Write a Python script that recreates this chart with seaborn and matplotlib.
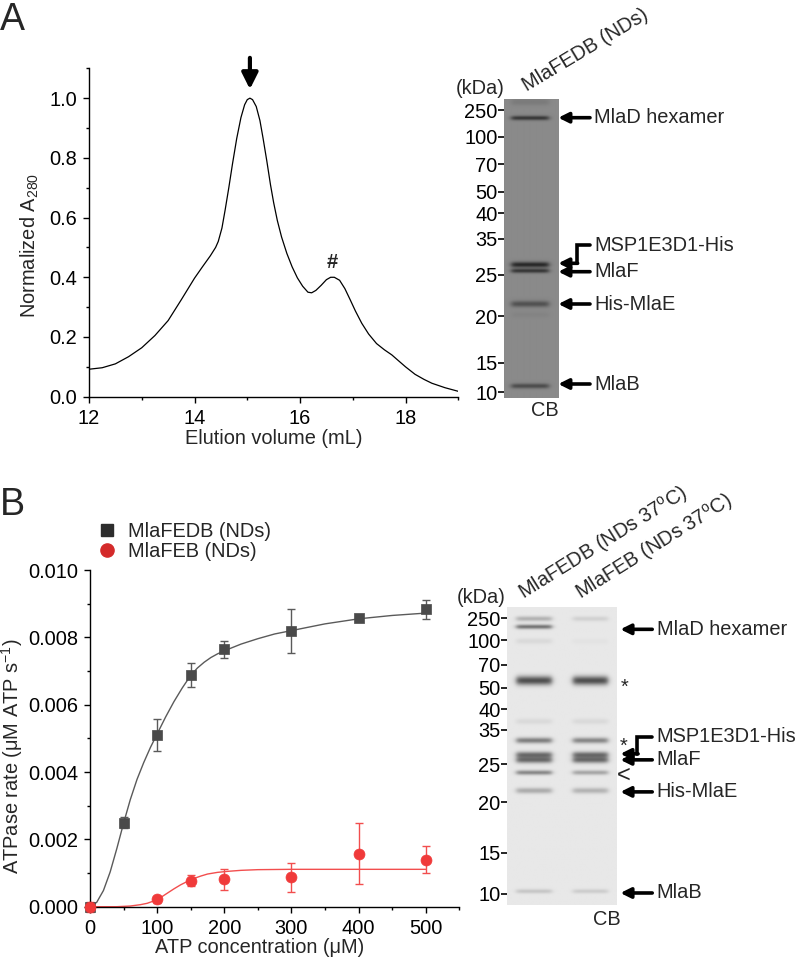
import matplotlib
matplotlib.use("Agg")
import matplotlib.pyplot as plt
import numpy as np
import pandas as pd
import seaborn as sns
from matplotlib.lines import Line2D
from matplotlib.ticker import MultipleLocator, FormatStrFormatter

# --- Data: panel A chromatogram ---
elution_ml = [12.0, 12.25, 12.5, 12.75, 13.0, 13.25, 13.5, 13.75, 14.0, 14.15, 14.3,
              14.4, 14.45, 14.52, 14.58, 14.65, 14.72, 14.8, 14.88, 14.95, 15.0, 15.05,
              15.1, 15.17, 15.24, 15.3, 15.37, 15.44, 15.5, 15.57, 15.65, 15.75, 15.85,
              15.95, 16.05, 16.15, 16.22, 16.3, 16.4, 16.5, 16.58, 16.65, 16.75, 16.85,
              16.95, 17.05, 17.17, 17.3, 17.45, 17.6, 17.74, 17.85, 18.0, 18.18, 18.35,
              18.5, 18.75, 19.0]
a280 = [0.092, 0.097, 0.11, 0.134, 0.164, 0.205, 0.255, 0.325, 0.397, 0.435, 0.472,
        0.50, 0.52, 0.565, 0.625, 0.70, 0.78, 0.865, 0.935, 0.978, 0.995, 1.0,
        0.995, 0.972, 0.925, 0.865, 0.79, 0.71, 0.65, 0.59, 0.535, 0.48, 0.435,
        0.398, 0.37, 0.35, 0.348, 0.356, 0.373, 0.392, 0.40, 0.40, 0.39, 0.362,
        0.325, 0.287, 0.246, 0.21, 0.178, 0.157, 0.14, 0.123, 0.10, 0.075, 0.058,
        0.045, 0.03, 0.018]

# --- Data: panel B ATPase assay ---
atp_fedb = [0, 50, 100, 150, 200, 300, 400, 500]
rate_fedb = [0.0, 0.0025, 0.0051, 0.00688, 0.00764, 0.00819, 0.00856, 0.00883]
err_fedb = [0.00005, 0.00016, 0.00047, 0.00036, 0.00025, 0.00065, 0.00005, 0.00029]
atp_feb = [0, 100, 150, 200, 300, 400, 500]
rate_feb = [0.0, 0.00022, 0.00077, 0.00081, 0.00087, 0.00158, 0.00139]
err_feb = [0.00015, 0.0001, 0.00017, 0.0003, 0.00044, 0.0009, 0.0004]

fit_x_fedb = [0, 10, 20, 30, 40, 50, 60, 70, 80, 90, 100, 112.5, 125, 137.5, 150, 160,
              170, 180, 190, 200, 225, 250, 275, 300, 350, 400, 450, 500]
fit_y_fedb = [0.0, 0.00013, 0.00048, 0.00103, 0.00173, 0.00248, 0.00318, 0.00378,
              0.00428, 0.00473, 0.00513, 0.00563, 0.00609, 0.0065, 0.00687, 0.00709,
              0.00726, 0.0074, 0.00751, 0.0076, 0.0078, 0.00796, 0.0081, 0.0082,
              0.0084, 0.00855, 0.00865, 0.00872]
fit_x_feb = [0, 40, 60, 75, 85, 95, 105, 115, 125, 135, 145, 155, 165, 175, 190, 205,
             225, 250, 300, 400, 500]
fit_y_feb = [0.0, 0.0, 0.00002, 0.00006, 0.0001, 0.00017, 0.00027, 0.0004, 0.00053,
             0.00065, 0.00075, 0.00084, 0.00091, 0.00097, 0.00102, 0.00105, 0.00108,
             0.0011, 0.00111, 0.00111, 0.00111]

# --- Data: gels (positions in px from gel top) ---
marker_kda = [250, 100, 70, 50, 40, 35, 25, 20, 15, 10]
gelA_marker_pos = [10.7, 37.4, 64.7, 92.4, 114.0, 139.7, 175.7, 216.7, 263.4, 293.0]
gelA_band_pos = [3, 19, 165.7, 171.8, 205, 216, 287]
gelA_band_int = [0.15, 0.8, 0.95, 0.8, 0.55, 0.06, 0.6]
gelA_band_w = [2.5, 1.6, 2.0, 1.6, 2.2, 2.0, 1.8]

gelB_marker_pos = [11.6, 33.6, 57.8, 81.0, 102.6, 123.0, 157.6, 195.6, 245.6, 286.6]
gelB_band_pos = [12.7, 20.7, 35, 74.3, 115, 134, 148.3, 153.5, 166, 184, 284.3]
gelB_lane1_int = [0.35, 0.75, 0.1, 1.0, 0.1, 0.7, 0.8, 0.8, 0.65, 0.4, 0.22]
gelB_lane2_int = [0.15, 0.0, 0.04, 1.0, 0.1, 0.65, 0.8, 0.8, 0.45, 0.35, 0.18]
gelB_band_w = [1.8, 1.6, 2.0, 3.2, 2.0, 2.0, 2.2, 2.2, 1.6, 2.0, 1.6]

FS = 14.4
W_PX, H_PX = 797, 961

sns.set_theme(style="ticks")
plt.rcParams["font.family"] = ["Liberation Sans", "DejaVu Sans"]
plt.rcParams["mathtext.default"] = "regular"
plt.rcParams["axes.linewidth"] = 1.0


def fig_rect(left, top, right, bottom):
    return [left / W_PX, 1 - bottom / H_PX, (right - left) / W_PX, (bottom - top) / H_PX]


def style_axis(ax):
    sns.despine(ax=ax)
    for sp in ("left", "bottom"):
        ax.spines[sp].set_color("black")
        ax.spines[sp].set_linewidth(1.0)
    ax.tick_params(which="major", direction="out", length=4, width=1.0, pad=4.5,
                   labelsize=FS, colors="black")
    ax.tick_params(which="minor", direction="out", length=2.2, width=1.0, colors="black")
    ax.grid(False)
    ax.set_facecolor("white")


def render_gel(height, width, lanes, band_pos, lane_ints, band_w, bg, depth):
    ys = np.arange(height) + 0.5
    xs = np.arange(width) + 0.5
    img = np.full((height, width), bg, dtype=float)
    for (l0, l1), ints in zip(lanes, lane_ints):
        prof = 1 / (1 + np.exp(-(xs - l0) / 1.5)) / (1 + np.exp((xs - l1) / 1.5))
        for p, a, w in zip(band_pos, ints, band_w):
            img -= depth * a * np.exp(-0.5 * ((ys - p) / w) ** 2)[:, None] * prof[None, :]
    return np.clip(img, 0, 1)


def draw_gel(ax, img, marker_pos):
    h, w = img.shape
    ax.imshow(img, cmap="gray", vmin=0, vmax=1, extent=(0, w, h, 0), aspect="auto",
              interpolation="bilinear")
    ax.set_xlim(0, w)
    ax.set_ylim(h, 0)
    ax.set_xticks([])
    ax.set_yticks(marker_pos, labels=[str(k) for k in marker_kda])
    ax.tick_params(axis="y", direction="out", length=4, width=1.2, pad=0.8,
                   labelsize=FS, colors="black")
    for sp in ax.spines.values():
        sp.set_visible(False)


def arrow_label(ax, y, text, head_x, tail_x, text_x, text_y=None):
    ax.annotate("", xy=(head_x, y), xytext=(tail_x, y),
                arrowprops=dict(arrowstyle="-|>", color="black", lw=2.6,
                                mutation_scale=15, shrinkA=0, shrinkB=0),
                annotation_clip=False)
    if text:
        ax.text(text_x, y if text_y is None else text_y, text, ha="left", va="center",
                fontsize=FS, clip_on=False)


fig = plt.figure(figsize=(W_PX / 100, H_PX / 100), dpi=100)

# ---------------- Panel A: chromatogram ----------------
axA = fig.add_axes(fig_rect(89, 68.3, 458.3, 396.7))
sns.lineplot(x=elution_ml, y=a280, ax=axA, color="black", lw=0.9, sort=False)
axA.set_xlim(12, 19)
axA.set_ylim(0, 1.1)
axA.xaxis.set_major_locator(MultipleLocator(2))
axA.xaxis.set_minor_locator(MultipleLocator(1))
axA.yaxis.set_major_locator(MultipleLocator(0.2))
axA.yaxis.set_minor_locator(MultipleLocator(0.1))
axA.yaxis.set_major_formatter(FormatStrFormatter("%.1f"))
style_axis(axA)
axA.set_xlabel("Elution volume (mL)", fontsize=FS)
axA.set_ylabel("Normalized A$_{280}$", fontsize=FS)
axA.xaxis.set_label_coords(0.5, -0.098)
axA.yaxis.set_label_coords(-0.13, 0.462)
axA.annotate("", xy=(15.05, 1.03), xytext=(15.05, 1.135),
             arrowprops=dict(arrowstyle="-|>", color="black", lw=3.0,
                             mutation_scale=24, shrinkA=0, shrinkB=0),
             annotation_clip=False)
axA.text(16.62, 0.43, "#", ha="center", va="baseline", fontsize=FS, fontweight="bold")
fig.text(0.0, 1 - 30 / H_PX, "A", fontsize=27, ha="left", va="baseline")

# ---------------- Panel A: gel ----------------
gA_left, gA_top, gA_right, gA_bottom = 504.3, 99.3, 558.3, 398.3
axGA = fig.add_axes(fig_rect(gA_left, gA_top, gA_right, gA_bottom))
imgA = render_gel(299, 54, [(7.4, 44.0)], gelA_band_pos, [gelA_band_int], gelA_band_w,
                  bg=0.54, depth=0.4)
draw_gel(axGA, imgA, gelA_marker_pos)
wA = 54
hx, tx, lx = wA, 590 - gA_left, 594 - gA_left
arrow_label(axGA, 18.4, "MlaD hexamer", hx, tx, lx)
elbow_x = 576.7 - gA_left
axGA.plot([tx, elbow_x, elbow_x], [146.2, 146.2, 164.0], color="black", lw=2.6,
          solid_joinstyle="miter", clip_on=False)
arrow_label(axGA, 164.0, "", hx, elbow_x + 0.9, lx)
axGA.text(lx, 146.2, "MSP1E3D1-His", ha="left", va="center", fontsize=FS, clip_on=False)
arrow_label(axGA, 172.4, "MlaF", hx, tx, lx)
arrow_label(axGA, 204.7, "His-MlaE", hx, tx, lx)
arrow_label(axGA, 284.7, "MlaB", hx, tx, lx)
axGA.text(480 - gA_left, 88 - gA_top, "(kDa)", ha="center", va="center", fontsize=FS,
          clip_on=False)
axGA.text(527 - gA_left, 91.5 - gA_top, "MlaFEDB (NDs)", rotation=31,
          rotation_mode="anchor", ha="left", va="baseline", fontsize=FS, clip_on=False)
axGA.text(545 - gA_left, 410 - gA_top, "CB", ha="center", va="center", fontsize=FS,
          clip_on=False)

# ---------------- Panel B: ATPase assay ----------------
axB = fig.add_axes(fig_rect(90, 570, 459.3, 906.7))
gray_pt, gray_ln = "#4a4a4a", "#5a5a5a"
red_pt, red_ln = "#f03a3a", "#f24e4e"
sns.lineplot(x=fit_x_fedb, y=fit_y_fedb, ax=axB, color=gray_ln, lw=1.0)
sns.lineplot(x=fit_x_feb, y=fit_y_feb, ax=axB, color=red_ln, lw=1.0)
axB.errorbar(atp_fedb, rate_fedb, yerr=err_fedb, fmt="none", ecolor=gray_ln,
             elinewidth=1.0, capsize=3, capthick=1.0, clip_on=False)
axB.errorbar(atp_feb, rate_feb, yerr=err_feb, fmt="none", ecolor=red_ln,
             elinewidth=1.0, capsize=3, capthick=1.0, clip_on=False)
df_fedb = pd.DataFrame({"atp": atp_fedb, "rate": rate_fedb})
df_feb = pd.DataFrame({"atp": atp_feb, "rate": rate_feb})
sns.scatterplot(data=df_fedb, x="atp", y="rate", ax=axB, marker="s", s=48,
                color=gray_pt, edgecolor=gray_pt, linewidth=0.5, zorder=5, clip_on=False)
sns.scatterplot(data=df_feb, x="atp", y="rate", ax=axB, marker="o", s=62,
                color=red_pt, edgecolor=red_pt, linewidth=0.5, zorder=5, clip_on=False)
axB.set_xlim(0, 550)
axB.set_ylim(0, 0.010)
axB.xaxis.set_major_locator(MultipleLocator(100))
axB.xaxis.set_minor_locator(MultipleLocator(50))
axB.yaxis.set_major_locator(MultipleLocator(0.002))
axB.yaxis.set_minor_locator(MultipleLocator(0.001))
axB.yaxis.set_major_formatter(FormatStrFormatter("%.3f"))
style_axis(axB)
axB.set_xlabel("ATP concentration (μM)", fontsize=FS)
axB.set_ylabel("ATPase rate (μM ATP s$^{-1}$)", fontsize=FS)
axB.xaxis.set_label_coords(0.46, -0.092)
axB.yaxis.set_label_coords(-0.176, 0.448)
handles = [Line2D([], [], marker="s", ls="none", color="#2d2d2d", markersize=9),
           Line2D([], [], marker="o", ls="none", color="#d42a2a", markersize=9.5)]
fig.legend(handles, ["MlaFEDB (NDs)", "MlaFEB (NDs)"], loc="upper left",
           bbox_to_anchor=(97 / W_PX, 1 - 522 / H_PX), frameon=False, fontsize=FS,
           handlelength=1.0, handletextpad=0.55, labelspacing=0.05, borderpad=0,
           borderaxespad=0)
fig.text(0.0, 1 - 515 / H_PX, "B", fontsize=27, ha="left", va="baseline")

# ---------------- Panel B: gel ----------------
gB_left, gB_top, gB_right, gB_bottom = 507.3, 606.7, 616.7, 905.0
axGB = fig.add_axes(fig_rect(gB_left, gB_top, gB_right, gB_bottom))
imgB = render_gel(298, 109, [(9.4, 44.4), (65.4, 100.0)], gelB_band_pos,
                  [gelB_lane1_int, gelB_lane2_int], gelB_band_w, bg=0.91, depth=0.6)
draw_gel(axGB, imgB, gelB_marker_pos)
hx, tx, lx = 620 - gB_left, 651.7 - gB_left, 656 - gB_left
arrow_label(axGB, 22.6, "MlaD hexamer", hx, tx, lx)
elbow_x = 636.7 - gB_left
axGB.plot([tx, elbow_x, elbow_x], [129.8, 129.8, 147.0], color="black", lw=2.6,
          solid_joinstyle="miter", clip_on=False)
arrow_label(axGB, 147.0, "", hx, elbow_x + 0.9, lx)
axGB.text(lx, 129.8, "MSP1E3D1-His", ha="left", va="center", fontsize=FS, clip_on=False)
arrow_label(axGB, 153.0, "MlaF", hx, tx, lx)
arrow_label(axGB, 185.0, "His-MlaE", hx, tx, lx)
arrow_label(axGB, 286.0, "MlaB", hx, tx, lx)
axGB.text(624 - gB_left, 85.8, "*", ha="center", va="baseline", fontsize=FS, clip_on=False)
axGB.text(623.5 - gB_left, 144.8, "*", ha="center", va="baseline", fontsize=FS,
          clip_on=False)
axGB.text(623.5 - gB_left, 169.0, "<", ha="center", va="center", fontsize=17,
          clip_on=False)
axGB.text(481 - gB_left, 598 - gB_top, "(kDa)", ha="center", va="center", fontsize=FS,
          clip_on=False)
axGB.text(524 - gB_left, 600 - gB_top, "MlaFEDB (NDs 37$^{o}$C)", rotation=32,
          rotation_mode="anchor", ha="left", va="baseline", fontsize=FS, clip_on=False)
axGB.text(580 - gB_left, 600 - gB_top, "MlaFEB (NDs 37$^{o}$C)", rotation=32,
          rotation_mode="anchor", ha="left", va="baseline", fontsize=FS, clip_on=False)
axGB.text(606 - gB_left, 919.3 - gB_top, "CB", ha="center", va="center", fontsize=FS,
          clip_on=False)

fig.savefig("out.png", dpi=100, facecolor="white")
